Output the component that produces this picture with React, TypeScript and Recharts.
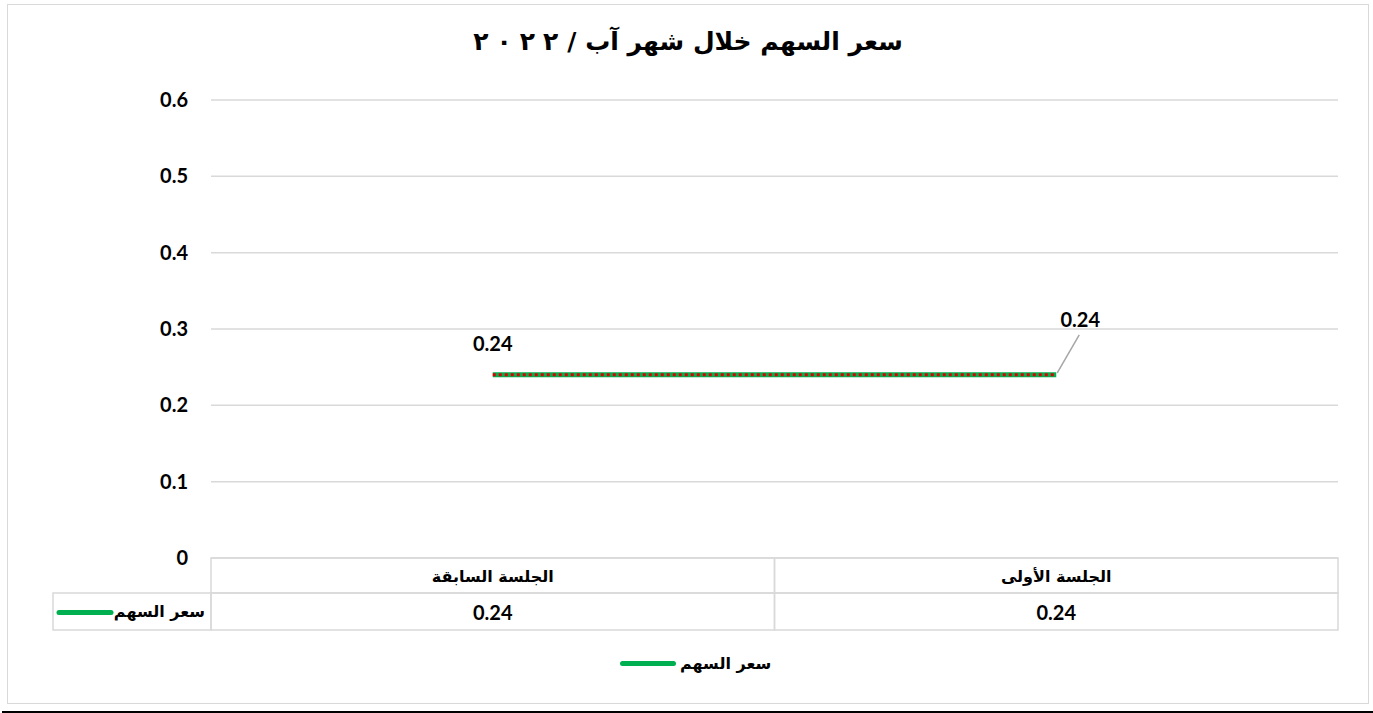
import { LineChart, Line, XAxis, YAxis, CartesianGrid, LabelList } from 'recharts';

const TITLE_TEXT = 'سعر السهم خلال شهر آب /';
const TITLE_YEAR = ['٢', '٠', '٢', '٢'];
const SERIES_NAME = 'سعر السهم';
const CATEGORIES = ['الجلسة السابقة', 'الجلسة الأولى'];
const PRICE = [0.24, 0.24];
const Y_TICKS = [0, 0.1, 0.2, 0.3, 0.4, 0.5, 0.6];

const data = CATEGORIES.map((name, i) => ({ name, price: PRICE[i] }));

const CHART_W = 1360;
const CHART_H = 698;
const MARGIN = { top: 95, right: 30, left: 0, bottom: 68 };
const Y_AXIS_W = 203;
const X_AXIS_H = 77;
const BAND = (CHART_W - MARGIN.left - MARGIN.right - Y_AXIS_W) / CATEGORIES.length;
const ROW1 = 35;
const ROW2 = 37;
const KEY_BOX_W = 158;

const GREEN = '#00B050';
const RED = '#E00000';
const GRID = '#d9d9d9';
const NUM_FONT = 'Lato, "DejaVu Sans", sans-serif';
const AR_FONT = '"DejaVu Sans", sans-serif';

function TableTick(props: any) {
  const { x, y, payload, index } = props;
  const left = x - BAND / 2;
  return (
    <g>
      <rect x={left} y={y} width={BAND} height={ROW1} fill="none" stroke={GRID} strokeWidth={1.5} />
      <rect x={left} y={y + ROW1} width={BAND} height={ROW2} fill="none" stroke={GRID} strokeWidth={1.5} />
      <text x={x} y={y + ROW1 / 2 + 1} textAnchor="middle" dominantBaseline="central"
        fontFamily={AR_FONT} fontWeight="bold" fontSize={16} fill="#000">
        {payload.value}
      </text>
      <text x={x} y={y + ROW1 + ROW2 / 2} textAnchor="middle" dominantBaseline="central"
        fontFamily={NUM_FONT} fontWeight="bold" fontSize={20} fill="#000">
        {PRICE[index]}
      </text>
      {index === 0 && (
        <g>
          <rect x={left - KEY_BOX_W} y={y + ROW1} width={KEY_BOX_W} height={ROW2} fill="none" stroke={GRID} strokeWidth={1.5} />
          <line x1={left - KEY_BOX_W + 6} x2={left - KEY_BOX_W + 58} y1={y + ROW1 + ROW2 / 2 + 1} y2={y + ROW1 + ROW2 / 2 + 1}
            stroke={GREEN} strokeWidth={5} strokeLinecap="round" />
          <text x={left - 6} y={y + ROW1 + ROW2 / 2} textAnchor="end" dominantBaseline="central"
            fontFamily={AR_FONT} fontWeight="bold" fontSize={16} fill="#000">
            {SERIES_NAME}
          </text>
        </g>
      )}
    </g>
  );
}

function PointLabel(props: any) {
  const { x, y, value, index } = props;
  if (index === 0) {
    return (
      <text x={x} y={y - 32} textAnchor="middle" dominantBaseline="central"
        fontFamily={NUM_FONT} fontWeight="bold" fontSize={20} fill="#000">
        {value}
      </text>
    );
  }
  return (
    <g>
      <line x1={x + 1} y1={y - 2} x2={x + 23} y2={y - 40} stroke="#a6a6a6" strokeWidth={1.5} />
      <text x={x + 24} y={y - 56} textAnchor="middle" dominantBaseline="central"
        fontFamily={NUM_FONT} fontWeight="bold" fontSize={20} fill="#000">
        {value}
      </text>
    </g>
  );
}

export default function App() {
  return (
    <div style={{ position: 'absolute', left: 0, top: 0, width: 1373, height: 713, background: '#fff' }}>
      <div style={{ position: 'absolute', left: 7, top: 4, width: 1362, height: 700, border: `1px solid ${GRID}`, boxSizing: 'border-box' }} />
      <div style={{
        position: 'absolute', left: 8, top: 27, width: CHART_W, display: 'flex', justifyContent: 'center',
        alignItems: 'baseline', fontFamily: AR_FONT, fontWeight: 700, fontSize: 25, color: '#000',
      }}>
        <span style={{ display: 'flex', gap: 8, marginRight: 9 }}>
          {TITLE_YEAR.map((d, i) => <span key={i}>{d}</span>)}
        </span>
        <span style={{ direction: 'rtl' }}>{TITLE_TEXT}</span>
      </div>
      <div style={{ position: 'absolute', left: 8, top: 5 }}>
        <LineChart width={CHART_W} height={CHART_H} data={data} margin={MARGIN}>
          <CartesianGrid vertical={false} stroke={GRID} strokeWidth={1.5} />
          <XAxis dataKey="name" scale="band" axisLine={false} tickLine={false} tickSize={0} tickMargin={0}
            height={X_AXIS_H} tick={<TableTick />} interval={0} />
          <YAxis domain={[0, 0.6]} ticks={Y_TICKS} width={Y_AXIS_W} axisLine={false} tickLine={false}
            tickSize={0} tickMargin={23}
            tick={{ fontFamily: NUM_FONT, fontWeight: 'bold', fontSize: 20, fill: '#000' }} />
          <Line dataKey="price" stroke={GREEN} strokeWidth={5} dot={false} isAnimationActive={false} name={SERIES_NAME}>
            <LabelList dataKey="price" content={<PointLabel />} />
          </Line>
          <Line dataKey="price" stroke={RED} strokeWidth={3} strokeDasharray="3 3"
            dot={false} isAnimationActive={false} legendType="none" />
        </LineChart>
      </div>
      <div style={{ position: 'absolute', left: 620, top: 654, display: 'flex', alignItems: 'center' }}>
        <div style={{ width: 56, height: 5, borderRadius: 3, background: GREEN }} />
        <span style={{ fontFamily: AR_FONT, fontWeight: 'bold', fontSize: 16, color: '#000', marginLeft: 4 }}>
          {SERIES_NAME}
        </span>
      </div>
      <div style={{ position: 'absolute', left: 2, top: 711, width: 1371, height: 2, background: '#000' }} />
    </div>
  );
}
